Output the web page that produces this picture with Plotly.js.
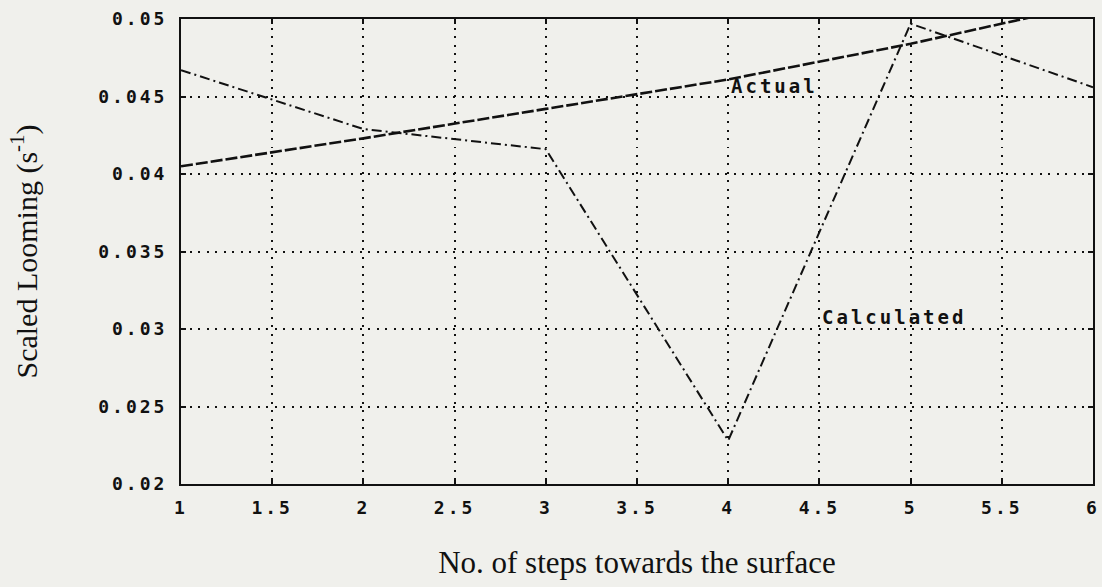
<!DOCTYPE html>
<html>
<head>
<meta charset="utf-8">
<script src="https://cdn.plot.ly/plotly-3.0.1.min.js"></script>
<style>
  html, body { margin: 0; padding: 0; background: #f0f0ec; }
  #chart { width: 1102px; height: 587px; }
  .xtick text, .ytick text { letter-spacing: 3px; }
  .annotation-text { letter-spacing: 3px; }
</style>
</head>
<body>
<div id="chart"></div>
<script>
// Data
const steps = [1, 2, 3, 4, 5, 6];
const actualLooming = [0.0405, 0.0423, 0.0442, 0.0461, 0.0484, 0.0510];
const calculatedLooming = [0.0467, 0.0429, 0.0416, 0.0228, 0.0497, 0.0456];

const xTickVals = [1, 1.5, 2, 2.5, 3, 3.5, 4, 4.5, 5, 5.5, 6];
const xTickText = ['1', '1.5', '2', '2.5', '3', '3.5', '4', '4.5', '5', '5.5', '6'];
const yTickVals = [0.02, 0.025, 0.03, 0.035, 0.04, 0.045, 0.05];
const yTickText = ['0.02', '0.025', '0.03', '0.035', '0.04', '0.045', '0.05'];

const seriesNames = ['Actual', 'Calculated'];
const labelX = [4.005, 4.505];
const labelY = [0.04571, 0.03078];

const xTitle = 'No. of steps towards the surface';
const yTitle = 'Scaled Looming (s<sup>-1</sup>)';

const ink = '#111111';
const monoFont = { family: 'DejaVu Sans Mono', size: 18, color: ink, weight: 'bold' };
const serifFont = { family: 'Liberation Serif', color: ink };

const traces = [
  {
    x: steps, y: actualLooming, name: seriesNames[0], mode: 'lines',
    line: { color: ink, width: 2.6, dash: '12px,3px' }
  },
  {
    x: steps, y: calculatedLooming, name: seriesNames[1], mode: 'lines',
    line: { color: ink, width: 2, dash: '10px,4px,2px,4px' }
  }
];

const layout = {
  width: 1102, height: 587,
  paper_bgcolor: '#f0f0ec', plot_bgcolor: '#f0f0ec',
  margin: { l: 181, r: 9, t: 19, b: 103 },
  showlegend: false,
  xaxis: {
    range: [1, 6], tickvals: xTickVals, ticktext: xTickText,
    showgrid: true, gridcolor: ink, gridwidth: 2, griddash: '2px,6.5px',
    zeroline: false, showline: true, linecolor: ink, linewidth: 2, mirror: 'ticks',
    ticks: 'inside', ticklen: 5, tickwidth: 2, tickcolor: ink,
    tickfont: monoFont, ticklabelstandoff: 6, ticklabeloverflow: 'allow',
    title: { text: xTitle, font: Object.assign({ size: 31 }, serifFont), standoff: 35 }
  },
  yaxis: {
    range: [0.02, 0.05], tickvals: yTickVals, ticktext: yTickText,
    showgrid: true, gridcolor: ink, gridwidth: 2, griddash: '2px,6.5px',
    zeroline: false, showline: true, linecolor: ink, linewidth: 2, mirror: 'ticks',
    ticks: 'inside', ticklen: 5, tickwidth: 2, tickcolor: ink,
    tickfont: monoFont, ticklabelstandoff: 8, ticklabeloverflow: 'allow',
    title: { text: yTitle, font: Object.assign({ size: 30 }, serifFont), standoff: 52 }
  },
  annotations: seriesNames.map((name, i) => ({
    x: labelX[i], y: labelY[i], xref: 'x', yref: 'y',
    text: name, showarrow: false, xanchor: 'left', yanchor: 'middle',
    font: { family: 'DejaVu Sans Mono', size: 19, color: ink, weight: 'bold' }
  }))
};

Plotly.newPlot('chart', traces, layout, { staticPlot: true, displayModeBar: false });
</script>
</body>
</html>
